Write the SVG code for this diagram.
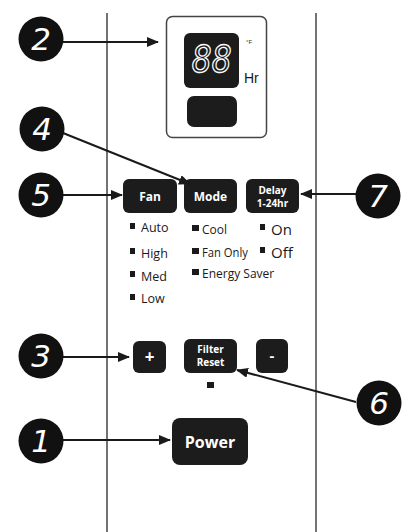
<svg xmlns="http://www.w3.org/2000/svg" width="410" height="532" viewBox="0 0 410 532">
<defs>
<marker id="ah" markerWidth="12" markerHeight="10" refX="11" refY="5" orient="auto" markerUnits="userSpaceOnUse">
<path d="M0,0 L12,5 L0,10 Z" fill="#1a1a1a"/>
</marker>
<style>
.btn{fill:#1c1c1c}
.bt{fill:#fff;font-family:"Open Sans","Liberation Sans",sans-serif;font-weight:bold;text-anchor:middle}
.num circle{fill:#111}
.nt{fill:#fff;font-family:"DejaVu Sans","Liberation Sans",sans-serif;font-style:italic;font-size:31px;text-anchor:middle}
.lbl{fill:#1a1a1a;font-family:"Open Sans","Liberation Sans",sans-serif}
.sq{fill:#1a1a1a}
.conn line{stroke:#1a1a1a;stroke-width:2;marker-end:url(#ah)}
.panel{stroke:#444;stroke-width:1.5;fill:none}
</style>
</defs>
<rect width="410" height="532" fill="#fff"/>
<g id="panel">
<line class="panel" x1="107" y1="13" x2="107" y2="532"/>
<line class="panel" x1="316" y1="13" x2="316" y2="532"/>
</g>
<g id="display">
<rect x="166.5" y="16.5" width="100" height="121" rx="6" fill="#fff" stroke="#444" stroke-width="1.5"/>
<rect x="184" y="33" width="55" height="55" rx="6" class="btn"/>
<text x="212" y="72" font-family="DejaVu Sans Mono,monospace" font-style="italic" font-size="37" fill="#1c1c1c" stroke="#fff" stroke-width="1.3" text-anchor="middle" textLength="40" lengthAdjust="spacingAndGlyphs">88</text>
<text x="246" y="44" font-family="Liberation Sans,sans-serif" font-size="6" fill="#333">°F</text>
<text x="244" y="83" font-family="Liberation Sans,sans-serif" font-size="14" fill="#1a1a1a">Hr</text>
<rect x="187" y="96" width="50" height="31" rx="7" class="btn"/>
</g>
<g id="btn-fan"><rect x="123" y="179" width="54" height="34" rx="6" class="btn"/><text x="150" y="201" class="bt" font-size="12">Fan</text></g>
<g id="btn-mode"><rect x="184" y="179" width="53" height="34" rx="6" class="btn"/><text x="210.5" y="201" class="bt" font-size="12">Mode</text></g>
<g id="btn-delay"><rect x="246" y="179" width="53" height="34" rx="6" class="btn"/><text x="272.5" y="194" class="bt" font-size="10">Delay</text><text x="272.5" y="207" class="bt" font-size="10">1-24hr</text></g>
<g id="fan-options">
<rect x="130" y="223" width="5" height="6" class="sq"/><text x="141" y="232" class="lbl" font-size="12.5">Auto</text>
<rect x="130" y="248" width="5" height="6" class="sq"/><text x="141" y="258" class="lbl" font-size="12.5">High</text>
<rect x="130" y="271" width="5" height="6" class="sq"/><text x="141" y="281" class="lbl" font-size="12.5">Med</text>
<rect x="130" y="294" width="5" height="6" class="sq"/><text x="141" y="303" class="lbl" font-size="12.5">Low</text>
</g>
<g id="mode-options">
<rect x="192" y="225" width="7" height="6" class="sq"/><text x="202" y="234" class="lbl" font-size="12">Cool</text>
<rect x="192" y="248" width="7" height="6" class="sq"/><text x="202" y="257" class="lbl" font-size="12" textLength="46" lengthAdjust="spacingAndGlyphs">Fan Only</text>
<rect x="192" y="269" width="7" height="6" class="sq"/><text x="202" y="278" class="lbl" font-size="12">Energy Saver</text>
</g>
<g id="delay-options">
<rect x="260" y="224" width="5" height="6" class="sq"/><text x="271" y="235" class="lbl" font-size="15">On</text>
<rect x="260" y="247" width="5" height="6" class="sq"/><text x="271" y="258" class="lbl" font-size="15">Off</text>
</g>
<g id="btn-plus"><rect x="133" y="341" width="33" height="32" rx="6" class="btn"/><text x="149.5" y="363" class="bt" font-size="17">+</text></g>
<g id="btn-filter"><rect x="184" y="339" width="53" height="34" rx="6" class="btn"/><text x="210.5" y="353" class="bt" font-size="10">Filter</text><text x="210.5" y="366" class="bt" font-size="10">Reset</text></g>
<g id="btn-minus"><rect x="256" y="339" width="32" height="34" rx="6" class="btn"/><text x="272" y="361" class="bt" font-size="15">-</text></g>
<g id="filter-light"><rect x="207" y="382" width="7" height="6" class="sq"/></g>
<g id="btn-power"><rect x="172" y="418" width="76" height="47" rx="8" class="btn"/><text x="210" y="448" class="bt" font-size="16">Power</text></g>
<g class="conn" id="connectors">
<line x1="63" y1="42" x2="158" y2="42"/>
<line x1="63" y1="133" x2="190" y2="184"/>
<line x1="63" y1="195" x2="122" y2="195"/>
<line x1="356" y1="194" x2="301" y2="194"/>
<line x1="63" y1="357" x2="129" y2="357"/>
<line x1="356" y1="402" x2="237" y2="370"/>
<line x1="63" y1="440" x2="170" y2="440"/>
</g>
<g class="num" id="m2"><circle cx="41" cy="39" r="22.5"/><text x="41" y="50" class="nt">2</text></g>
<g class="num" id="m4"><circle cx="42" cy="129" r="22.5"/><text x="42" y="140" class="nt">4</text></g>
<g class="num" id="m5"><circle cx="41" cy="195" r="22.5"/><text x="41" y="206" class="nt">5</text></g>
<g class="num" id="m7"><circle cx="378" cy="196" r="22.5"/><text x="378" y="207" class="nt">7</text></g>
<g class="num" id="m3"><circle cx="41" cy="356" r="22.5"/><text x="41" y="367" class="nt">3</text></g>
<g class="num" id="m6"><circle cx="379" cy="403" r="22.5"/><text x="379" y="414" class="nt">6</text></g>
<g class="num" id="m1"><circle cx="41" cy="441" r="22.5"/><text x="41" y="452" class="nt">1</text></g>
</svg>
